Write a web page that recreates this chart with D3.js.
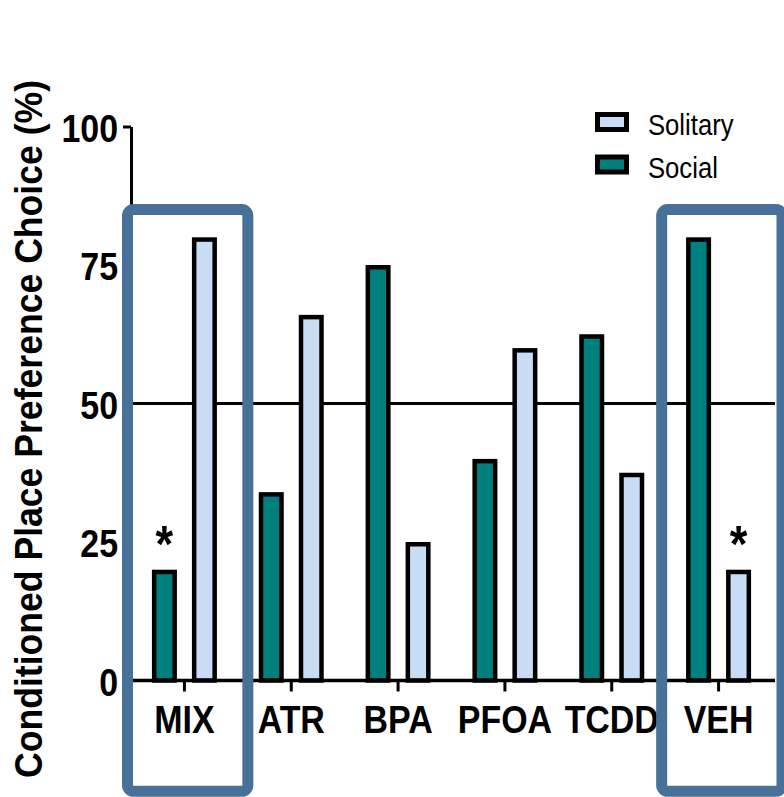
<!DOCTYPE html>
<html>
<head>
<meta charset="utf-8">
<script src="https://cdn.jsdelivr.net/npm/d3@7"></script>
<style>
  html, body { margin: 0; padding: 0; background: #fff; }
  svg { display: block; font-family: "Liberation Sans", Arial, sans-serif; }
</style>
</head>
<body>
<svg id="chart" width="784" height="797"></svg>
<script>
// ---- data ----
const categories = ["MIX", "ATR", "BPA", "PFOA", "TCDD", "VEH"];
const socialValues = [20, 34, 75, 40, 62.5, 80];
const solitaryValues = [80, 66, 25, 60, 37.5, 20];
const yTickValues = [0, 25, 50, 75, 100];
const highlightedCategories = ["MIX", "VEH"];
const significantMarks = [
  { category: "MIX", series: "Social" },
  { category: "VEH", series: "Solitary" }
];
const seriesNames = ["Solitary", "Social"];
const yLabel = "Conditioned Place Preference Choice (%)";
const referenceValue = 50;

// ---- styles ----
const colors = { Social: "#007F7F", Solitary: "#C8DCF5" };
const boxColor = "#48719A";
const SX = 0.87; // horizontal condensing of text

const svg = d3.select("#chart");

const x = d3.scaleBand().domain(categories).range([131, 772]);
const y = d3.scaleLinear().domain([0, 100]).range([680.5, 126.5]);

const offset = { Social: -20, Solitary: 20 };
const barW = 20.5;
const stroke = 4.5;

const rows = [];
categories.forEach((c, i) => {
  rows.push({ category: c, series: "Social", value: socialValues[i] });
  rows.push({ category: c, series: "Solitary", value: solitaryValues[i] });
});
const cx = d => x(d.category) + x.bandwidth() / 2 + offset[d.series];

// reference line at 50
svg.append("line")
  .attr("x1", x.range()[0]).attr("x2", x.range()[1] + 3)
  .attr("y1", y(referenceValue)).attr("y2", y(referenceValue))
  .attr("stroke", "#000").attr("stroke-width", 3);

// bars
svg.append("g").selectAll("rect").data(rows).join("rect")
  .attr("x", d => cx(d) - barW / 2)
  .attr("y", d => y(d.value) + stroke / 2)
  .attr("width", barW)
  .attr("height", d => y(0) - y(d.value) - stroke / 2)
  .attr("fill", d => colors[d.series])
  .attr("stroke", "#000")
  .attr("stroke-width", stroke);

// x axis
svg.append("line")
  .attr("x1", x.range()[0]).attr("x2", x.range()[1] + 3)
  .attr("y1", y(0)).attr("y2", y(0))
  .attr("stroke", "#000").attr("stroke-width", 3.5);
const xAxis = svg.append("g")
  .attr("transform", `translate(0,${y(0)})`)
  .call(d3.axisBottom(x).tickSize(11).tickSizeOuter(0));
xAxis.select(".domain").remove();
xAxis.selectAll(".tick line").attr("stroke", "#000").attr("stroke-width", 3);
xAxis.selectAll(".tick text")
  .attr("y", 0).attr("dy", null)
  .attr("transform", `translate(0,52.5) scale(${SX},1)`)
  .attr("fill", "#000")
  .style("font-size", "39px").style("font-weight", "bold")
  .style("font-family", "'Liberation Sans', Arial, sans-serif");

// y axis
const yAxis = svg.append("g")
  .attr("transform", `translate(131,0)`)
  .call(d3.axisLeft(y).tickValues(yTickValues).tickSize(8).tickSizeOuter(0));
yAxis.select(".domain").attr("stroke", "#000").attr("stroke-width", 3);
yAxis.selectAll(".tick line").attr("stroke", "#000").attr("stroke-width", 3);
yAxis.selectAll(".tick text")
  .attr("x", 0).attr("dy", null).attr("y", 0)
  .attr("transform", `translate(-13,14.5) scale(${SX},1)`)
  .attr("text-anchor", "end")
  .attr("fill", "#000")
  .style("font-size", "39px").style("font-weight", "bold")
  .style("font-family", "'Liberation Sans', Arial, sans-serif");

// y label
svg.append("text")
  .attr("transform", `translate(41.5,429) rotate(-90)`)
  .attr("text-anchor", "middle")
  .attr("textLength", 698)
  .attr("lengthAdjust", "spacingAndGlyphs")
  .style("font-size", "39px").style("font-weight", "bold")
  .text(yLabel);

// significance asterisks
significantMarks.forEach(m => {
  const i = categories.indexOf(m.category);
  const v = m.series === "Social" ? socialValues[i] : solitaryValues[i];
  svg.append("text")
    .attr("transform", `translate(${cx({category: m.category, series: m.series})},${y(v) - 8}) scale(${SX},1)`)
    .attr("text-anchor", "middle")
    .style("font-size", "52px").style("font-weight", "bold")
    .text("*");
});

// highlight boxes
svg.append("g").selectAll("rect").data(highlightedCategories).join("rect")
  .attr("x", c => x(c) - 3.5)
  .attr("y", y(85))
  .attr("width", x.bandwidth() + 13.5)
  .attr("height", y(-20) - y(85))
  .attr("rx", 6)
  .attr("fill", "none")
  .attr("stroke", boxColor)
  .attr("stroke-width", 11);

// legend
const legend = svg.append("g");
seriesNames.forEach((s, i) => {
  const g = legend.append("g").attr("transform", `translate(597.5,${114.5 + i * 42.5})`);
  g.append("rect").attr("width", 29).attr("height", 15)
    .attr("fill", colors[s]).attr("stroke", "#000").attr("stroke-width", 5);
  g.append("text")
    .attr("transform", `translate(50.5,20.5) scale(${SX},1)`)
    .style("font-size", "29.5px")
    .text(s);
});
</script>
</body>
</html>
